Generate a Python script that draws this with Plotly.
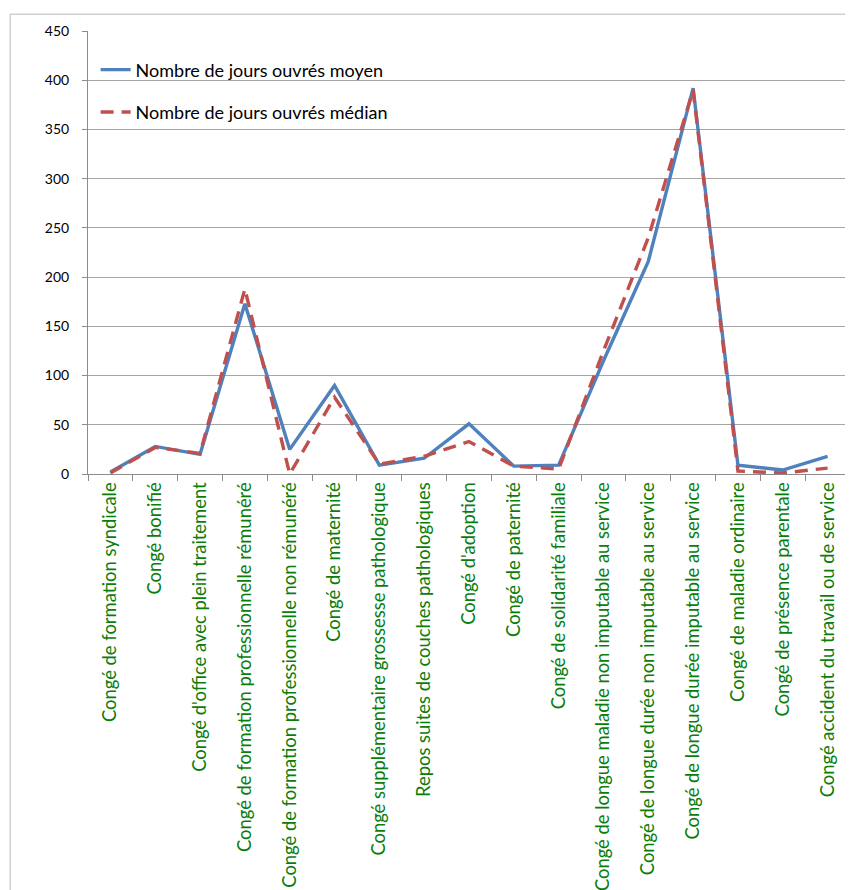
import plotly.graph_objects as go

categories = [
    "Congé de formation syndicale",
    "Congé bonifié",
    "Congé d'office avec plein traitement",
    "Congé de formation professionnelle rémunéré",
    "Congé de formation professionnelle non rémunéré",
    "Congé de maternité",
    "Congé supplémentaire grossesse pathologique",
    "Repos suites de couches pathologiques",
    "Congé d'adoption",
    "Congé de paternité",
    "Congé de solidarité familiale",
    "Congé de longue maladie non imputable au service",
    "Congé de longue durée non imputable au service",
    "Congé de longue durée imputable au service",
    "Congé de maladie ordinaire",
    "Congé de présence parentale",
    "Congé accident du travail ou de service",
]

moyen = [2, 28, 20, 173, 25, 90, 9, 16, 51, 8, 9, 115, 216, 392, 9, 4, 18]
median = [1, 27, 21, 188, 0, 78, 10, 18, 33, 8, 5, 125, 240, 390, 3, 1, 6]

FONT = "Lato, Open Sans, sans-serif"

fig = go.Figure()

fig.add_trace(
    go.Scatter(
        x=categories,
        y=moyen,
        mode="lines",
        name="Nombre de jours ouvrés moyen",
        line=dict(color="#4F81BD", width=3.4),
        legendgroup="a",
    )
)
fig.add_trace(
    go.Scatter(
        x=categories,
        y=median,
        mode="lines",
        name="Nombre de jours ouvrés médian",
        line=dict(color="#C0504D", width=3.4, dash="13px,8px"),
        legendgroup="b",
    )
)

# cadre gris clair autour du graphique (coupé à droite et en bas)
fig.add_shape(
    type="rect",
    xref="paper",
    yref="paper",
    x0=-0.102,
    x1=1.2,
    y0=-2,
    y1=1.038,
    line=dict(color="#d0d0d0", width=1.5),
    layer="below",
)

# la page html ajoute 8 px de marge au corps : figure un peu réduite
fig.update_layout(
    width=845,
    height=882,
    margin=dict(l=80, r=3, t=23, b=416),
    paper_bgcolor="white",
    plot_bgcolor="white",
    font=dict(family=FONT, color="#000000"),
    showlegend=True,
    legend=dict(
        x=0.01,
        y=0.954,
        xanchor="left",
        yanchor="top",
        bgcolor="rgba(0,0,0,0)",
        font=dict(size=18, family=FONT, color="#000000"),
        tracegroupgap=16,
        itemwidth=30,
    ),
    xaxis=dict(
        type="category",
        range=[-0.5, 16.5],
        tickson="boundaries",
        ticks="outside",
        ticklen=6,
        tickcolor="#8c8c8c",
        tickangle=-90,
        tickfont=dict(size=18.4, color="#0b7d0b", family=FONT),
        automargin=False,
        showline=True,
        linecolor="#8c8c8c",
        linewidth=1,
        showgrid=False,
        zeroline=False,
    ),
    yaxis=dict(
        range=[0, 450],
        dtick=50,
        ticks="outside",
        ticklen=5,
        tickcolor="#8c8c8c",
        tickfont=dict(size=14, color="#000000", family=FONT),
        ticklabelstandoff=10,
        automargin=False,
        showline=True,
        linecolor="#8c8c8c",
        linewidth=1,
        showgrid=True,
        gridcolor="#a6a6a6",
        gridwidth=1,
        zeroline=False,
    ),
)

fig.write_html("out.html")
